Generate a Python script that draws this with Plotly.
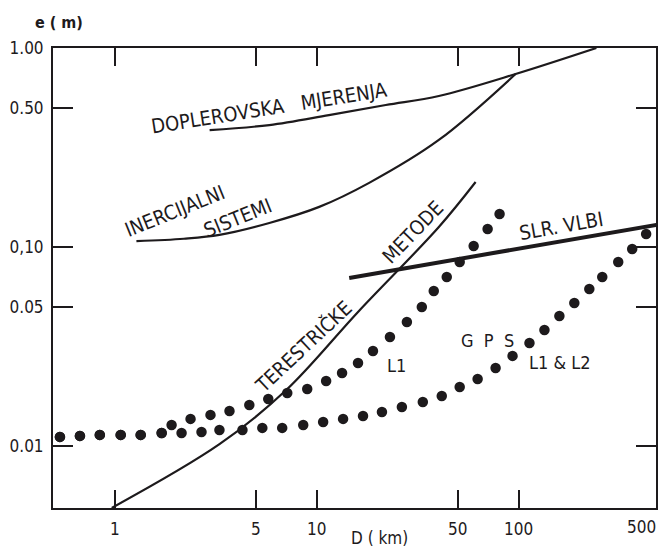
import plotly.graph_objects as go

# ---------------- data ----------------
dopler_x = [2.95, 5.83, 11.5, 22.0, 40.3, 96.7, 243.0]
dopler_y = [0.387, 0.41, 0.46, 0.517, 0.574, 0.74, 1.0]

inerc_x = [1.28, 2.2, 3.30, 5.83, 10.3, 18.2, 40.3, 96.7]
inerc_y = [0.107, 0.110, 0.115, 0.132, 0.159, 0.21, 0.345, 0.74]

terest_x = [0.966, 3.30, 7.07, 16.2, 40.3, 61.3]
terest_y = [0.00488, 0.0102, 0.0191, 0.0477, 0.126, 0.212]

slr_x = [14.5, 500.0]
slr_y = [0.0699, 0.130]

gps_l1_x = [0.535, 0.672, 0.843, 1.07, 1.344, 1.707, 1.912, 2.373, 2.979, 3.70,
            4.64, 5.76, 7.15, 8.98, 11.14, 13.36, 16.03, 19.01, 23.07, 27.99,
            33.19, 38.04, 44.11, 51.12, 59.95, 70.29, 80.58]
gps_l1_y = [0.0111, 0.01123, 0.01136, 0.01136, 0.01136, 0.01162, 0.01275, 0.01367,
            0.01432, 0.01499, 0.01607, 0.01722, 0.01846, 0.01934, 0.02121, 0.02327,
            0.02613, 0.03002, 0.03529, 0.04198, 0.04994, 0.06009, 0.07065, 0.08408,
            0.1012, 0.1231, 0.1465]

gps_l12_x = [0.535, 0.672, 0.843, 1.07, 1.344, 1.707, 2.142, 2.689, 3.30, 4.29,
             5.38, 6.75, 8.58, 10.77, 13.52, 16.97, 21.06, 26.44, 33.57, 41.67,
             51.12, 62.73, 76.99, 93.4, 113.3, 134.4, 159.4, 189.0, 224.2, 259.9,
             311.8, 365.6, 428.7]
gps_l12_y = [0.0111, 0.01123, 0.01136, 0.01136, 0.01136, 0.01162, 0.01162, 0.01176,
             0.01203, 0.01203, 0.01232, 0.01232, 0.01275, 0.01320, 0.01367, 0.01415,
             0.01482, 0.01570, 0.01664, 0.01783, 0.01979, 0.02171, 0.02466, 0.02834,
             0.03293, 0.03827, 0.04499, 0.05232, 0.06150, 0.07065, 0.08408, 0.09770,
             0.1162]

x_tick_vals = [1, 5, 10, 50, 100]
x_tick_text = ["1", "5", "10", "50", "100"]
y_tick_vals = [0.01, 0.05, 0.10, 0.50, 1.00]
y_tick_text = ["0.01", "0.05", "0,10", "0.50", "1.00"]

# ---------------- figure ----------------
INK = "#1d1a1c"
FONT = "DejaVu Sans Condensed, DejaVu Sans, sans-serif"

fig = go.Figure()

line_style = dict(color=INK, width=2.2, shape="spline", smoothing=1.0)
fig.add_trace(go.Scatter(x=dopler_x, y=dopler_y, mode="lines", line=line_style))
fig.add_trace(go.Scatter(x=inerc_x, y=inerc_y, mode="lines", line=line_style))
fig.add_trace(go.Scatter(x=terest_x, y=terest_y, mode="lines", line=line_style))
fig.add_trace(go.Scatter(x=slr_x, y=slr_y, mode="lines", line=dict(color=INK, width=4)))
fig.add_trace(go.Scatter(x=gps_l1_x, y=gps_l1_y, mode="markers",
                         marker=dict(color=INK, size=10.5)))
fig.add_trace(go.Scatter(x=gps_l12_x, y=gps_l12_y, mode="markers",
                         marker=dict(color=INK, size=10.5)))

W, H = 658, 549
L, R, T, B = 53, 0, 48, 41
PW, PH = W - L - R, H - T - B


def px(xp):
    return (xp - L) / PW


def py(yp):
    return (H - B - yp) / PH


def label(text, xp, yp, angle=0, size=20):
    fig.add_annotation(text=text, x=px(xp), y=py(yp), xref="paper", yref="paper",
                       showarrow=False, textangle=angle, xanchor="center", yanchor="middle",
                       font=dict(family=FONT, size=size, color=INK))


label("DOPLEROVSKA&nbsp;&nbsp;&nbsp;MJERENJA", 270, 108, -9, 20)
label("INERCIJALNI", 175, 211, -22, 20)
label("SISTEMI", 238, 218, -22, 20)
label("TERESTRIČKE", 304, 347, -43, 20)
label("METODE", 414, 232, -46, 20)
label("SLR.&nbsp;VLBI", 563, 226, -10, 20)
label("G&nbsp;&nbsp;P&nbsp;&nbsp;S", 489, 340, 0, 18)
label("L1", 398, 365, 0, 18)
label("L1&nbsp;&amp;&nbsp;L2", 562, 362, 0, 18)
label("<b>e ( m)</b>", 59, 23, 0, 16)
label("D ( km)", 381, 538, 0, 17)
label("500", 643, 527, 0, 17)

axis_common = dict(
    type="log", showgrid=False, zeroline=False, showline=True, linecolor=INK,
    linewidth=2, ticks="inside", tickcolor=INK, tickwidth=2, mirror="ticks",
    tickfont=dict(family=FONT, size=17, color=INK),
)

fig.update_xaxes(range=[-0.306, 2.681], tickvals=x_tick_vals, ticktext=x_tick_text,
                 ticklen=18, ticklabelstandoff=5, **axis_common)
fig.update_yaxes(range=[-2.312, 0.0], tickvals=y_tick_vals, ticktext=y_tick_text,
                 ticklen=20, ticklabelstandoff=4, **axis_common)

fig.update_layout(
    width=W, height=H, margin=dict(l=L, r=R, t=T, b=B),
    paper_bgcolor="white", plot_bgcolor="white", showlegend=False,
    font=dict(family=FONT, color=INK),
)

fig.write_html(
    "out.html",
    config={"displayModeBar": False},
    post_script="document.body.style.margin='0';document.body.style.overflow='hidden';",
)
